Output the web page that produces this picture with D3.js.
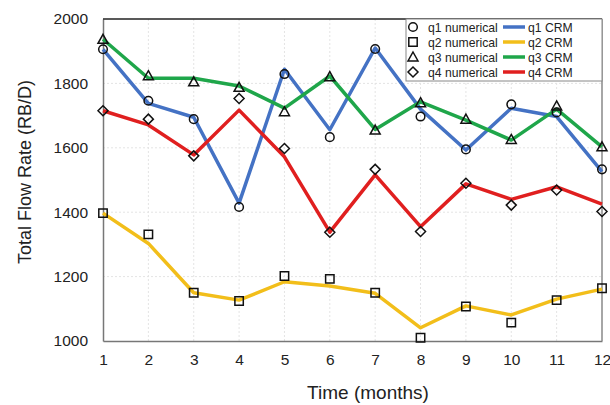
<!DOCTYPE html>
<html><head><meta charset="utf-8">
<script src="https://cdn.jsdelivr.net/npm/d3@7"></script>
<style>body{margin:0;background:#fff}svg{display:block;font-family:"Liberation Sans",Arial,sans-serif}</style>
</head><body><svg id="c" width="610" height="405"></svg>
<script>
const months = [1,2,3,4,5,6,7,8,9,10,11,12];
const yTicks = [1000,1200,1400,1600,1800,2000];
const q1Num = [1906,1746,1689,1416,1829,1633,1907,1697,1595,1735,1710,1533];
const q1CRM = [1906,1738,1695,1428,1844,1656,1910,1720,1593,1723,1697,1526];
const q2Num = [1397,1331,1150,1124,1202,1193,1150,1010,1107,1057,1127,1164];
const q2CRM = [1397,1303,1150,1127,1184,1171,1148,1041,1109,1081,1130,1161];
const q3Num = [1937,1824,1805,1788,1712,1821,1655,1740,1689,1626,1730,1603];
const q3CRM = [1937,1816,1816,1792,1723,1823,1657,1743,1686,1624,1720,1603];
const q4Num = [1715,1689,1575,1753,1598,1338,1533,1340,1490,1422,1469,1402];
const q4CRM = [1715,1671,1578,1717,1572,1338,1516,1355,1488,1440,1479,1425];
const seriesNames = ["q1","q2","q3","q4"];
const colors = ["#4472C4","#F2BE1A","#1FA64A","#E01F1F"];
const shapes = ["circle","square","triangle","diamond"];
const numData = [q1Num,q2Num,q3Num,q4Num];
const crmData = [q1CRM,q2CRM,q3CRM,q4CRM];

const svg = d3.select("#c");
const L=103,R=602,T=19,B=341;
const x = d3.scaleLinear().domain([1,12]).range([L,R]);
const y = d3.scaleLinear().domain([1000,2000]).range([B,T]);

// grid
const g = svg.append("g");
g.selectAll(".vg").data(months.slice(1,-1)).join("line")
 .attr("x1",d=>x(d)).attr("x2",d=>x(d)).attr("y1",T).attr("y2",B)
 .attr("stroke","#e4e4e4").attr("stroke-dasharray","2,2");
g.selectAll(".hg").data(yTicks.slice(1,-1)).join("line")
 .attr("x1",L).attr("x2",R).attr("y1",d=>y(d)).attr("y2",d=>y(d))
 .attr("stroke","#e4e4e4").attr("stroke-dasharray","2,2");

// axes
const xa = svg.append("g").attr("transform",`translate(0,${B})`)
 .call(d3.axisBottom(x).tickValues(months).tickFormat(d3.format("d")).tickSize(0).tickPadding(13));
const ya = svg.append("g").attr("transform",`translate(${L},0)`)
 .call(d3.axisLeft(y).tickValues(yTicks).tickFormat(d3.format("d")).tickSize(0).tickPadding(15));
[xa,ya].forEach(a=>{a.select(".domain").attr("stroke","#777").attr("stroke-width",1.5);
 a.selectAll("text").attr("font-size",15.5).attr("fill","#222").attr("font-family","Liberation Sans, Arial, sans-serif");});
svg.append("line").attr("x1",L).attr("x2",R).attr("y1",T).attr("y2",T).attr("stroke","#222").attr("stroke-width",1.5);
svg.append("line").attr("x1",R).attr("x2",R).attr("y1",T).attr("y2",B).attr("stroke","#888").attr("stroke-width",1.5);

// lines
const line = d3.line().x((d,i)=>x(months[i])).y(d=>y(d));
crmData.forEach((s,k)=>{
 svg.append("path").attr("d",line(s)).attr("fill","none").attr("stroke",colors[k])
  .attr("stroke-width",3.5).attr("stroke-linejoin","round");
});

const shapePaths = {
 circle: "M4.3,0A4.3,4.3 0 1,1 -4.3,0A4.3,4.3 0 1,1 4.3,0Z",
 square: "M-4.2,-4.2H4.2V4.2H-4.2Z",
 triangle: "M0,-5L5,4H-5Z",
 diamond: "M0,-5L5,0L0,5L-5,0Z"
};
function marker(sel,shape){
 return sel.append("path").attr("d",shapePaths[shape])
  .attr("fill","none").attr("stroke","#111").attr("stroke-width",1.5);
}
numData.forEach((s,k)=>{
 s.forEach((v,i)=>{
  marker(svg.append("g").attr("transform",`translate(${x(months[i])},${y(v)})`),shapes[k]);
 });
});

// legend
const lg = svg.append("g");
lg.append("rect").attr("x",406).attr("y",T).attr("width",R-406).attr("height",62)
 .attr("fill","#fff").attr("stroke","#888").attr("stroke-width",1);
seriesNames.forEach((n,k)=>{
 const ry = 27+k*15;
 marker(lg.append("g").attr("transform",`translate(413,${ry})`),shapes[k]);
 lg.append("text").attr("x",428).attr("y",ry+4.5).attr("font-size",12.2).attr("fill","#222").text(n+" numerical");
 lg.append("line").attr("x1",503).attr("x2",525).attr("y1",ry).attr("y2",ry).attr("stroke",colors[k]).attr("stroke-width",3.5);
 lg.append("text").attr("x",528).attr("y",ry+4.5).attr("font-size",12.2).attr("fill","#222").text(n+" CRM");
});

// titles
svg.append("text").attr("x",368).attr("y",399).attr("text-anchor","middle")
 .attr("font-size",19).attr("fill","#222").text("Time (months)");
svg.append("text").attr("transform",`translate(31,172) rotate(-90)`).attr("text-anchor","middle")
 .attr("font-size",18).attr("fill","#222").text("Total Flow Rate (RB/D)");
</script></body></html>
